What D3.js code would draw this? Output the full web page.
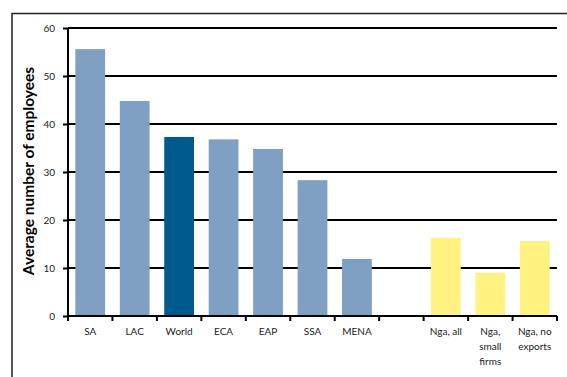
<!DOCTYPE html>
<html>
<head>
<meta charset="utf-8">
<script src="https://cdn.jsdelivr.net/npm/d3@7"></script>
<style>
  html, body { margin: 0; padding: 0; background: #fff; }
  svg { display: block; }
  text { font-family: Lato, "Open Sans", sans-serif; }
</style>
</head>
<body>
<svg id="chart" width="567" height="377"></svg>
<script>
// Data
const categories = ["SA", "LAC", "World", "ECA", "EAP", "SSA", "MENA", "", "Nga, all", "Nga, small firms", "Nga, no exports"];
const labelLines = [["SA"], ["LAC"], ["World"], ["ECA"], ["EAP"], ["SSA"], ["MENA"], [""], ["Nga, all"], ["Nga,", "small", "firms"], ["Nga, no", "exports"]];
const values = [55.6, 44.8, 37.3, 36.8, 34.8, 28.3, 11.9, null, 16.3, 9.0, 15.6];
const groups = ["region", "region", "world", "region", "region", "region", "region", "none", "nigeria", "nigeria", "nigeria"];
const yTicks = [0, 10, 20, 30, 40, 50, 60];
const yTitle = "Average number of employees";

const colors = { region: "#7FA0C3", world: "#005A8E", nigeria: "#FFF280" };

const svg = d3.select("#chart");

// Outer frame
svg.append("rect")
  .attr("x", 12).attr("y", 13.5)
  .attr("width", 560).attr("height", 380)
  .attr("fill", "none").attr("stroke", "#222").attr("stroke-width", 1.5);

const pLeft = 68, pRight = 557, pTop = 28, pBottom = 316;

const x = d3.scaleBand().domain(d3.range(categories.length)).range([pLeft, pRight]).paddingInner(0.33).paddingOuter(0.165);
const xSlot = d3.scaleBand().domain(d3.range(categories.length)).range([pLeft, pRight]).padding(0);
const y = d3.scaleLinear().domain([0, 60]).range([pBottom, pTop]);

// gridlines
svg.append("g").selectAll("line").data(yTicks.filter(d => d > 0)).join("line")
  .attr("x1", pLeft).attr("x2", pRight)
  .attr("y1", d => y(d)).attr("y2", d => y(d))
  .attr("stroke", "#000").attr("stroke-width", 2);

// bars
svg.append("g").selectAll("rect").data(values.map((v, i) => ({ v, i })).filter(d => d.v !== null)).join("rect")
  .attr("x", d => x(d.i))
  .attr("width", x.bandwidth())
  .attr("y", d => y(d.v))
  .attr("height", d => y(0) - y(d.v))
  .attr("fill", d => colors[groups[d.i]]);

// y axis
const yAxis = svg.append("g").attr("transform", `translate(${pLeft},0)`)
  .call(d3.axisLeft(y).tickValues(yTicks).tickSize(5).tickPadding(8));
yAxis.select(".domain").attr("stroke", "#000").attr("stroke-width", 2).attr("d", `M0,${pTop}V${pBottom}`);
yAxis.selectAll(".tick line").attr("stroke", "#000").attr("stroke-width", 2);
yAxis.selectAll(".tick text").attr("font-size", 10).attr("fill", "#222").style("font-family", "Lato, sans-serif");

// x axis
const xAxisG = svg.append("g").attr("transform", `translate(0,${pBottom})`);
xAxisG.append("line").attr("x1", pLeft).attr("x2", pRight).attr("y1", 0).attr("y2", 0)
  .attr("stroke", "#000").attr("stroke-width", 2);
const boundaries = d3.range(categories.length + 1).map(i => i < categories.length ? xSlot(i) : xSlot(i - 1) + xSlot.bandwidth());
xAxisG.selectAll("line.tk").data(boundaries).join("line").attr("class", "tk")
  .attr("x1", d => d).attr("x2", d => d).attr("y1", 0).attr("y2", 5)
  .attr("stroke", "#000").attr("stroke-width", 2);
const lbl = xAxisG.selectAll("text.lbl").data(labelLines.map((l, i) => ({ l, i }))).join("text").attr("class", "lbl")
  .attr("x", d => xSlot(d.i) + xSlot.bandwidth() / 2)
  .attr("y", 19)
  .attr("text-anchor", "middle")
  .attr("font-size", 10)
  .attr("fill", "#222");
lbl.selectAll("tspan").data(d => d.l.map(t => ({ t, x: xSlot(d.i) + xSlot.bandwidth() / 2 }))).join("tspan")
  .attr("x", d => d.x)
  .attr("dy", (d, j) => j === 0 ? 0 : 15)
  .text(d => d.t);

// y title
svg.append("text")
  .attr("transform", `translate(34,171) rotate(-90)`)
  .attr("text-anchor", "middle")
  .attr("font-size", 15.5)
  .attr("font-weight", "bold")
  .attr("fill", "#000")
  .text(yTitle);
</script>
</body>
</html>
